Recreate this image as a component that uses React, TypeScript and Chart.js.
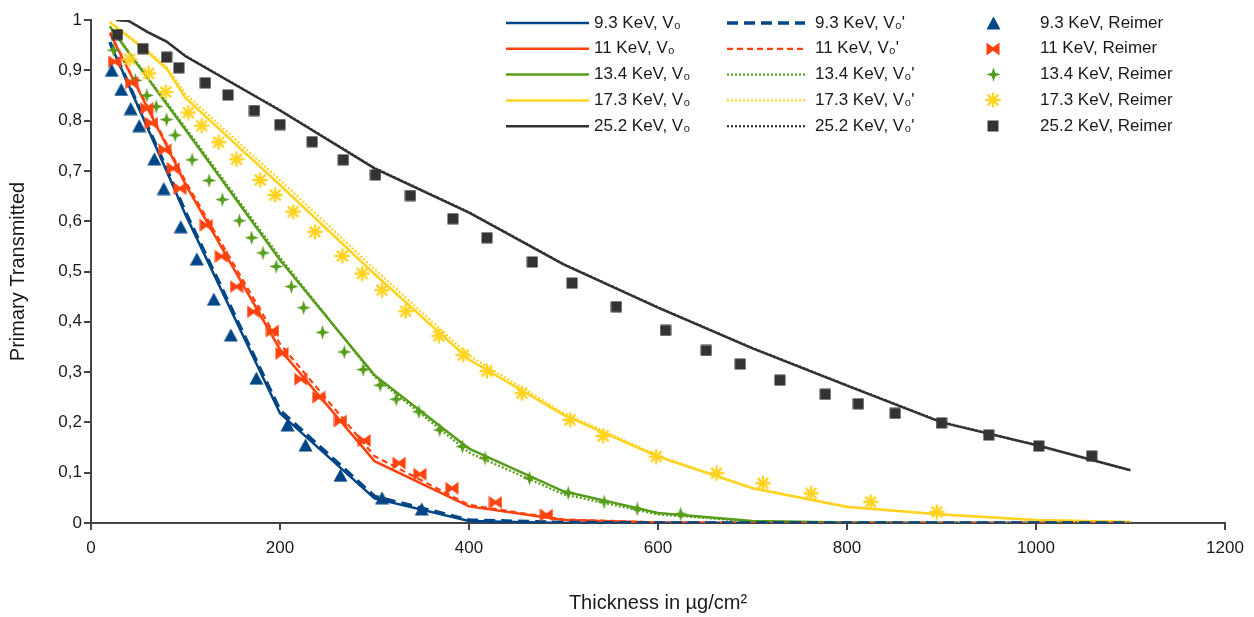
import React, { useEffect, useRef } from "react";
import { Chart, registerables } from "chart.js";

Chart.register(...registerables);

// ---------------- data ----------------
const energyLabels = ["9.3 KeV", "11 KeV", "13.4 KeV", "17.3 KeV", "25.2 KeV"];

const modelThickness = [20, 40, 60, 80, 100, 200, 300, 400, 500, 600, 700, 800, 900, 1000, 1100];
const modelThickness252 = [27, 40, 60, 80, 100, 200, 300, 400, 500, 600, 700, 800, 900, 1000, 1100];

const v0_93 = [0.955, 0.87, 0.785, 0.7, 0.613, 0.218, 0.049, 0.004, 0, 0, 0, 0, 0, 0, 0];
const v0p_93 = [0.956, 0.872, 0.788, 0.704, 0.618, 0.224, 0.053, 0.006, 0.001, 0, 0, 0, 0, 0, 0];
const v0_11 = [0.974, 0.899, 0.824, 0.75, 0.673, 0.345, 0.123, 0.033, 0.006, 0.001, 0, 0, 0, 0, 0];
const v0p_11 = [0.975, 0.901, 0.827, 0.754, 0.679, 0.356, 0.133, 0.036, 0.007, 0.001, 0, 0, 0, 0, 0];
const v0_134 = [0.987, 0.935, 0.884, 0.833, 0.782, 0.523, 0.294, 0.148, 0.063, 0.02, 0.004, 0.001, 0, 0, 0];
const v0p_134 = [0.987, 0.937, 0.886, 0.836, 0.786, 0.528, 0.291, 0.14, 0.057, 0.017, 0.003, 0.001, 0, 0, 0];
const v0_173 = [0.995, 0.966, 0.936, 0.903, 0.845, 0.672, 0.495, 0.325, 0.215, 0.132, 0.069, 0.032, 0.017, 0.006, 0.002];
const v0p_173 = [0.996, 0.968, 0.939, 0.907, 0.853, 0.682, 0.505, 0.333, 0.219, 0.134, 0.07, 0.033, 0.017, 0.006, 0.002];
const v0_252 = [1.0, 0.998, 0.976, 0.957, 0.928, 0.82, 0.705, 0.617, 0.514, 0.428, 0.347, 0.273, 0.2, 0.155, 0.105];
const v0p_252 = [1.0, 0.998, 0.976, 0.957, 0.929, 0.821, 0.706, 0.618, 0.515, 0.429, 0.348, 0.274, 0.201, 0.155, 0.105];

const reimerX_93 = [22, 32, 42, 51, 67, 77, 95, 112, 130, 148, 175, 208, 227, 264, 308, 350];
const reimerY_93 = [0.9, 0.862, 0.824, 0.79, 0.724, 0.665, 0.589, 0.525, 0.445, 0.374, 0.288, 0.195, 0.155, 0.095, 0.05, 0.028];

const reimerX_11 = [25, 43, 59, 64, 78, 87, 94, 122, 138, 154, 172, 192, 202, 222, 241, 264, 289, 326, 348, 382, 428, 482];
const reimerY_11 = [0.917, 0.875, 0.824, 0.795, 0.742, 0.705, 0.665, 0.592, 0.53, 0.47, 0.42, 0.382, 0.337, 0.286, 0.25, 0.203, 0.164, 0.119, 0.097, 0.069, 0.041, 0.016];

const reimerX_134 = [24, 47, 59, 69, 80, 89, 107, 125, 139, 157, 170, 182, 196, 212, 225, 245, 268, 288, 306, 323, 347, 369, 393, 417, 464, 505, 543, 578, 624];
const reimerY_134 = [0.94, 0.88, 0.85, 0.828, 0.802, 0.771, 0.722, 0.681, 0.643, 0.601, 0.567, 0.537, 0.51, 0.47, 0.428, 0.379, 0.34, 0.305, 0.274, 0.246, 0.221, 0.185, 0.152, 0.129, 0.089, 0.06, 0.042, 0.028, 0.018];

const reimerX_173 = [41, 61, 79, 103, 117, 135, 154, 179, 195, 214, 237, 266, 287, 308, 333, 368, 394, 419, 456, 507, 542, 598, 662, 711, 762, 825, 895];
const reimerY_173 = [0.922, 0.894, 0.857, 0.816, 0.79, 0.757, 0.723, 0.682, 0.652, 0.619, 0.579, 0.531, 0.496, 0.463, 0.421, 0.372, 0.334, 0.302, 0.258, 0.205, 0.173, 0.132, 0.099, 0.079, 0.059, 0.042, 0.022];

const reimerX_252 = [28, 55, 80, 93, 121, 145, 173, 200, 234, 267, 301, 338, 383, 419, 467, 509, 556, 608, 651, 687, 729, 777, 812, 851, 900, 950, 1003, 1059];
const reimerY_252 = [0.971, 0.943, 0.926, 0.905, 0.875, 0.851, 0.82, 0.792, 0.758, 0.722, 0.692, 0.651, 0.605, 0.567, 0.519, 0.477, 0.43, 0.383, 0.343, 0.316, 0.284, 0.256, 0.237, 0.218, 0.199, 0.175, 0.153, 0.133];

const xTickValues = [0, 200, 400, 600, 800, 1000, 1200];

// ---------------- styles ----------------
const COLORS = ["#004586", "#ff420e", "#579d1c", "#ffd320", "#333333"];
const DASHES: number[][] = [[11, 6], [6, 4], [2, 2], [2, 2], [2, 2]];
const DASH_WIDTH = [3.5, 2.2, 2.2, 2.2, 2.2];
const FONT = '"Liberation Sans", Arial, sans-serif';
const TEXT = "#1a1a1a";
const AXIS = "#444444";

function makeCanvas(w: number, h: number, draw: (g: CanvasRenderingContext2D) => void) {
  const c = document.createElement("canvas");
  c.width = w;
  c.height = h;
  const g = c.getContext("2d")!;
  draw(g);
  return c;
}

function makeMarkers() {
  const tri = makeCanvas(15, 14, (g) => {
    g.fillStyle = COLORS[0];
    g.beginPath();
    g.moveTo(7.5, 0.5);
    g.lineTo(14.5, 13.5);
    g.lineTo(0.5, 13.5);
    g.closePath();
    g.fill();
  });
  const bow = makeCanvas(14, 14, (g) => {
    g.fillStyle = COLORS[1];
    g.beginPath();
    g.moveTo(0.5, 0.5);
    g.lineTo(7, 5.2);
    g.lineTo(13.5, 0.5);
    g.lineTo(13.5, 13.5);
    g.lineTo(7, 8.8);
    g.lineTo(0.5, 13.5);
    g.closePath();
    g.fill();
  });
  const plus = makeCanvas(15, 15, (g) => {
    g.fillStyle = COLORS[2];
    g.beginPath();
    for (let k = 0; k < 8; k++) {
      const r = k % 2 === 0 ? 7.2 : 2.5;
      const a = (k * Math.PI) / 4 - Math.PI / 2;
      const px = 7.5 + r * Math.cos(a);
      const py = 7.5 + r * Math.sin(a);
      if (k === 0) g.moveTo(px, py);
      else g.lineTo(px, py);
    }
    g.closePath();
    g.fill();
  });
  const star = makeCanvas(16, 16, (g) => {
    g.strokeStyle = COLORS[3];
    g.lineWidth = 2.4;
    g.lineCap = "round";
    for (let k = 0; k < 4; k++) {
      const a = (k * Math.PI) / 4;
      g.beginPath();
      g.moveTo(8 - 6.6 * Math.cos(a), 8 - 6.6 * Math.sin(a));
      g.lineTo(8 + 6.6 * Math.cos(a), 8 + 6.6 * Math.sin(a));
      g.stroke();
    }
  });
  const sq = makeCanvas(12, 12, (g) => {
    g.fillStyle = COLORS[4];
    g.fillRect(0.5, 0.5, 11, 11);
  });
  return [tri, bow, plus, star, sq];
}

const toPoints = (xs: number[], ys: number[]) => xs.map((x, i) => ({ x, y: ys[i] }));

export default function App() {
  const ref = useRef<HTMLCanvasElement | null>(null);

  useEffect(() => {
    if (!ref.current) return;
    const markers = makeMarkers();
    const solid = [v0_93, v0_11, v0_134, v0_173, v0_252];
    const dashed = [v0p_93, v0p_11, v0p_134, v0p_173, v0p_252];
    const xs = [modelThickness, modelThickness, modelThickness, modelThickness, modelThickness252];
    const rx = [reimerX_93, reimerX_11, reimerX_134, reimerX_173, reimerX_252];
    const ry = [reimerY_93, reimerY_11, reimerY_134, reimerY_173, reimerY_252];

    const solidLabels = energyLabels.map((e) => `${e}, V₀`);
    const dashLabels = energyLabels.map((e) => `${e}, V₀'`);
    const reimerLabels = energyLabels.map((e) => `${e}, Reimer`);

    const datasets: any[] = [];
    energyLabels.forEach((_, i) => {
      datasets.push({
        label: solidLabels[i],
        data: toPoints(xs[i], solid[i]),
        showLine: true,
        borderColor: COLORS[i],
        borderWidth: 2.5,
        pointRadius: 0,
        tension: 0,
        order: 2,
      });
    });
    energyLabels.forEach((_, i) => {
      datasets.push({
        label: dashLabels[i],
        data: toPoints(xs[i], dashed[i]),
        showLine: true,
        borderColor: COLORS[i],
        borderWidth: DASH_WIDTH[i],
        borderDash: DASHES[i],
        pointRadius: 0,
        tension: 0,
        order: 1,
      });
    });
    energyLabels.forEach((_, i) => {
      datasets.push({
        label: reimerLabels[i],
        data: toPoints(rx[i], ry[i]),
        showLine: false,
        pointStyle: markers[i],
        pointRadius: 7,
        pointHoverRadius: 7,
        backgroundColor: COLORS[i],
        borderColor: COLORS[i],
        order: 0,
      });
    });

    const legendPlugin = {
      id: "gridLegend",
      afterDraw(chart: any) {
        const ctx: CanvasRenderingContext2D = chart.ctx;
        ctx.save();
        ctx.font = `17px ${FONT}`;
        ctx.textBaseline = "middle";
        ctx.textAlign = "left";
        for (let i = 0; i < 5; i++) {
          const y = 23 + i * 25.8;
          ctx.strokeStyle = COLORS[i];
          ctx.lineWidth = 2.5;
          ctx.setLineDash([]);
          ctx.beginPath();
          ctx.moveTo(506, y);
          ctx.lineTo(589, y);
          ctx.stroke();
          ctx.fillStyle = TEXT;
          ctx.fillText(solidLabels[i], 594, y);

          ctx.lineWidth = DASH_WIDTH[i];
          ctx.setLineDash(DASHES[i]);
          ctx.beginPath();
          ctx.moveTo(727, y);
          ctx.lineTo(805, y);
          ctx.stroke();
          ctx.setLineDash([]);
          ctx.fillText(dashLabels[i], 815, y);

          const m = markers[i];
          ctx.drawImage(m, Math.round(993 - m.width / 2), Math.round(y - m.height / 2));
          ctx.fillText(reimerLabels[i], 1040, y);
        }
        ctx.restore();
      },
    };

    const chart = new Chart(ref.current, {
      type: "scatter",
      data: { datasets },
      options: {
        animation: false,
        responsive: false,
        devicePixelRatio: 1,
        layout: { padding: { left: 0, top: 20, right: 29, bottom: 0 } },
        plugins: { legend: { display: false }, tooltip: { enabled: false } },
        scales: {
          x: {
            type: "linear",
            min: 0,
            max: 1200,
            afterBuildTicks: (s: any) => {
              s.ticks = xTickValues.map((v) => ({ value: v }));
            },
            ticks: {
              padding: 8,
              color: TEXT,
              font: { size: 17, family: FONT },
              callback: (v: any) => String(Math.round(Number(v))),
            },
            grid: { display: true, drawOnChartArea: false, drawTicks: true, tickLength: 7, color: AXIS, lineWidth: 2 },
            border: { display: true, color: AXIS, width: 2 },
            title: {
              display: true,
              text: "Thickness in µg/cm²",
              color: TEXT,
              font: { size: 20, family: FONT },
              padding: { top: 0, bottom: 2 },
            },
            afterFit: (s: any) => {
              s.height = 94;
            },
          },
          y: {
            type: "linear",
            min: 0,
            max: 1,
            ticks: {
              stepSize: 0.1,
              padding: 2,
              color: TEXT,
              font: { size: 17, family: FONT },
              callback: (v: any) => {
                const r = Math.round(Number(v) * 10) / 10;
                if (r === 0) return "0";
                if (r === 1) return "1";
                return r.toFixed(1).replace(".", ",");
              },
            },
            grid: { display: true, drawOnChartArea: false, drawTicks: true, tickLength: 7, color: AXIS, lineWidth: 2 },
            border: { display: true, color: AXIS, width: 2 },
            title: {
              display: true,
              text: "Primary Transmitted",
              color: TEXT,
              font: { size: 20, family: FONT },
              padding: { top: 6, bottom: 0 },
            },
            afterFit: (s: any) => {
              s.width = 91;
            },
          },
        },
      } as any,
      plugins: [legendPlugin],
    });
    return () => chart.destroy();
  }, []);

  return (
    <div style={{ position: "fixed", left: 0, top: 0, width: 1254, height: 617, background: "#fff" }}>
      <canvas ref={ref} width={1254} height={617} style={{ display: "block" }} />
    </div>
  );
}
